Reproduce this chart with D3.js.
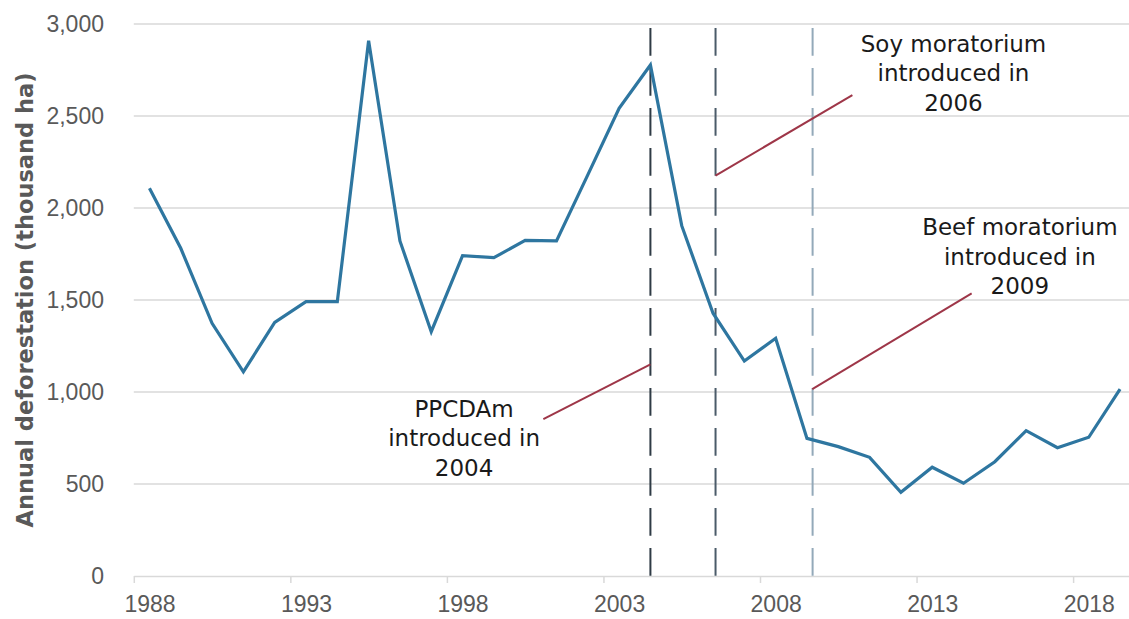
<!DOCTYPE html>
<html>
<head>
<meta charset="utf-8">
<script src="https://cdn.jsdelivr.net/npm/d3@7"></script>
<style>
  html, body { margin: 0; padding: 0; background: #ffffff; }
  svg { display: block; }
</style>
</head>
<body>
<svg id="chart" width="1129" height="619"></svg>
<script>
// ---------------- data ----------------
const years = [1988, 1989, 1990, 1991, 1992, 1993, 1994, 1995, 1996, 1997,
               1998, 1999, 2000, 2001, 2002, 2003, 2004, 2005, 2006, 2007,
               2008, 2009, 2010, 2011, 2012, 2013, 2014, 2015, 2016, 2017,
               2018, 2019];
const deforestation = [2107, 1781, 1373, 1110, 1378, 1491, 1491, 2909, 1821, 1328,
                       1741, 1730, 1824, 1821, 2180, 2542, 2777, 1904, 1428, 1168,
                       1292, 748, 703, 645, 455, 591, 504, 621, 790, 697,
                       754, 1015];
const yTicks = [0, 500, 1000, 1500, 2000, 2500, 3000];
const xLabelYears = [1988, 1993, 1998, 2003, 2008, 2013, 2018];

// policy events (vertical dashed lines, as placed on the picture)
const eventNames = ["PPCDAm", "Soy moratorium", "Beef moratorium"];
const eventX = [2004, 2006.08, 2009.18];
const eventTop = 2978;
// leader lines: [x0, y0, x1, y1] in data units
const leaderFrom = [[2000.58, 853], [2006.08, 2176], [2009.17, 1016]];
const leaderTo = [[2004, 1150], [2010.45, 2614], [2014.26, 1536]];
// annotation texts and their anchor (centre x, first baseline) in data units
const noteLines = [
  ["PPCDAm", "introduced in", "2004"],
  ["Soy moratorium", "introduced in", "2006"],
  ["Beef moratorium", "introduced in", "2009"]
];
const noteAnchor = [[1998.05, 866], [2013.68, 2849], [2015.8, 1853]];
const yTitle = "Annual deforestation (thousand ha)";

// ---------------- layout ----------------
const svg = d3.select("#chart");
const left = 133.8, catW = 31.31;
const x = d3.scaleLinear()
  .domain([years[0] - 0.5, years[years.length - 1] + 0.5])
  .range([left, left + catW * years.length]);
const y = d3.scaleLinear().domain([0, 3000]).range([576, 24]);

const gridColor = "#d9d9d9";
const tickFont = "'Liberation Sans', Arial, sans-serif";
const noteFont = "'DejaVu Sans', sans-serif";

// gridlines
svg.append("g").selectAll("line")
  .data(yTicks.filter(d => d > 0))
  .join("line")
  .attr("x1", x.range()[0]).attr("x2", x.range()[1])
  .attr("y1", d => y(d)).attr("y2", d => y(d))
  .attr("stroke", gridColor).attr("stroke-width", 1.5);

// y axis labels
const yAxis = d3.axisLeft(y).tickValues(yTicks).tickSize(0).tickPadding(29.8)
  .tickFormat(d3.format(","));
const gy = svg.append("g").attr("transform", `translate(${left},0)`).call(yAxis);
gy.select(".domain").remove();
gy.selectAll("text")
  .attr("fill", "#595959")
  .style("font-family", tickFont)
  .style("font-size", "23px");

// x axis: ticks at category boundaries
const boundaries = xLabelYears.map(v => v - 0.5);
const xAxisTicks = d3.axisBottom(x).tickValues(boundaries).tickSizeInner(7)
  .tickSizeOuter(0).tickFormat(() => "");
const gx = svg.append("g").attr("transform", `translate(0,${y(0)})`).call(xAxisTicks);
gx.select(".domain").attr("stroke", gridColor).attr("stroke-width", 1.5);
gx.selectAll(".tick line").attr("stroke", gridColor).attr("stroke-width", 1.5);

// x axis: labels centred on categories
const xAxisLabels = d3.axisBottom(x).tickValues(xLabelYears).tickSize(0)
  .tickPadding(20).tickFormat(d3.format("d"));
const gxl = svg.append("g").attr("transform", `translate(0,${y(0)})`).call(xAxisLabels);
gxl.select(".domain").remove();
gxl.selectAll("text")
  .attr("fill", "#595959")
  .style("font-family", tickFont)
  .style("font-size", "23px");

// y axis title
svg.append("text")
  .attr("transform", `translate(32.5,${(y(0) + y(3000)) / 2}) rotate(-90)`)
  .attr("text-anchor", "middle")
  .attr("fill", "#595959")
  .style("font-family", "'DejaVu Sans', sans-serif")
  .style("font-weight", "bold")
  .style("font-size", "22.5px")
  .text(yTitle);

// dashed event lines
const eventColors = ["#2f3b45", "#4b5b69", "#93a9b9"];
svg.append("g").selectAll("line")
  .data(eventX)
  .join("line")
  .attr("x1", d => x(d)).attr("x2", d => x(d))
  .attr("y1", y(eventTop)).attr("y2", y(0))
  .attr("stroke", (d, i) => eventColors[i])
  .attr("stroke-width", 2)
  .attr("stroke-dasharray", "27.7,12.3");

// data line
const line = d3.line()
  .x((d, i) => x(years[i]))
  .y(d => y(d));
svg.append("path")
  .datum(deforestation)
  .attr("d", line)
  .attr("fill", "none")
  .attr("stroke", "#2e76a0")
  .attr("stroke-width", 3.2)
  .attr("stroke-linejoin", "miter");

// leader lines
svg.append("g").selectAll("line")
  .data(eventNames)
  .join("line")
  .attr("x1", (d, i) => x(leaderFrom[i][0])).attr("y1", (d, i) => y(leaderFrom[i][1]))
  .attr("x2", (d, i) => x(leaderTo[i][0])).attr("y2", (d, i) => y(leaderTo[i][1]))
  .attr("stroke", "#9e3648")
  .attr("stroke-width", 2);

// annotation text
const notes = svg.append("g").selectAll("text")
  .data(eventNames)
  .join("text")
  .attr("x", (d, i) => x(noteAnchor[i][0]))
  .attr("y", (d, i) => y(noteAnchor[i][1]))
  .attr("text-anchor", "middle")
  .attr("fill", "#1a1a1a")
  .style("font-family", noteFont)
  .style("font-size", "23px");
notes.each(function (d, i) {
  const t = d3.select(this);
  noteLines[i].forEach((s, k) => {
    t.append("tspan")
      .attr("x", x(noteAnchor[i][0]))
      .attr("dy", k === 0 ? 0 : 29.5)
      .text(s);
  });
});
</script>
</body>
</html>
